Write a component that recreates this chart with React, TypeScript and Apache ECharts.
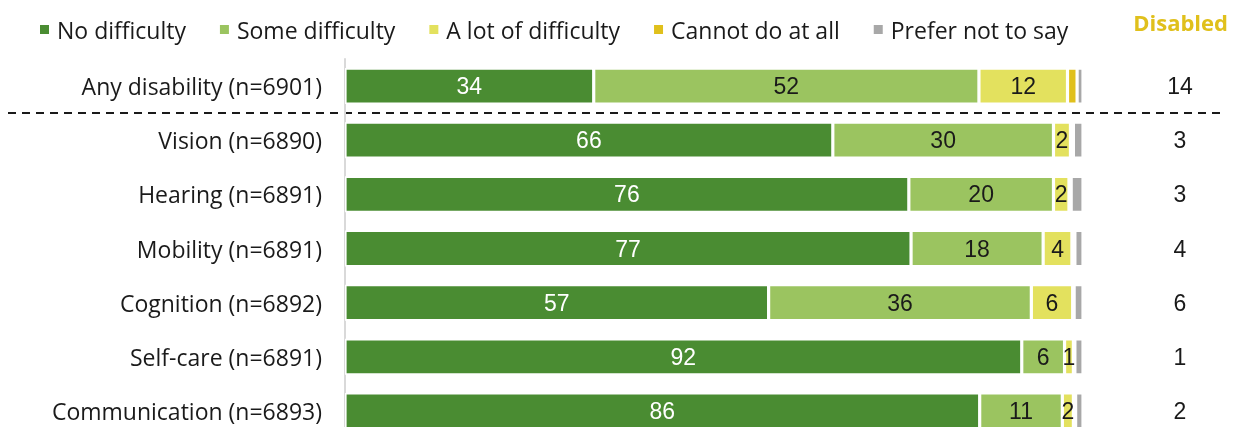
import React, { useEffect, useRef } from "react";
import * as echarts from "echarts";

const categories = [
  "Any disability (n=6901)",
  "Vision (n=6890)",
  "Hearing (n=6891)",
  "Mobility (n=6891)",
  "Cognition (n=6892)",
  "Self-care (n=6891)",
  "Communication (n=6893)",
];
const noDifficulty = [33.7, 66.1, 76.4, 76.7, 57.4, 91.7, 86.0];
const someDifficulty = [52.2, 29.9, 19.6, 17.9, 35.6, 5.8, 11.2];
const aLotOfDifficulty = [12.0, 2.3, 2.1, 3.9, 5.6, 1.2, 1.5];
const cannotDoAtAll = [1.3, 0.4, 0.3, 0.4, 0.2, 0.2, 0.3];
const preferNotToSay = [0.8, 1.3, 1.6, 1.1, 1.2, 1.1, 1.0];
const disabled = [14, 3, 3, 4, 6, 1, 2];

const seriesNames = [
  "No difficulty",
  "Some difficulty",
  "A lot of difficulty",
  "Cannot do at all",
  "Prefer not to say",
];
const seriesValues = [noDifficulty, someDifficulty, aLotOfDifficulty, cannotDoAtAll, preferNotToSay];
const colors = ["#4a8c32", "#9bc460", "#e3e15e", "#e0c01c", "#a8a8a8"];
const labelColors = ["#ffffff", "#1a1a1a", "#1a1a1a", "#1a1a1a", "#1a1a1a"];
const showLabel = [true, true, true, false, false];

const AXIS_FONT = "'Open Sans', 'Noto Sans', sans-serif";
const NUM_FONT = "'Liberation Sans', Arial, sans-serif";

export default function App() {
  const ref = useRef<HTMLDivElement>(null);
  useEffect(() => {
    if (!ref.current) return;
    const chart = echarts.init(ref.current, null, { renderer: "svg" });
    const series = seriesNames.map((name, i) => ({
      name,
      type: "bar",
      stack: "total",
      barWidth: 36,
      data: seriesValues[i],
      itemStyle: { color: colors[i], borderColor: "#ffffff", borderWidth: 1.6 },
      label: {
        show: showLabel[i],
        position: "inside",
        color: labelColors[i],
        fontFamily: NUM_FONT,
        fontSize: 23,
        formatter: (p: any) => String(Math.round(p.value)),
      },
      emphasis: { disabled: true },
    }));
    chart.setOption({
      animation: false,
      color: colors,
      grid: { left: 345, right: 156, top: 59, height: 379, containLabel: false },
      legend: {
        left: 38,
        top: 18,
        padding: 0,
        itemWidth: 11,
        itemHeight: 11,
        itemGap: 32,
        icon: "rect",
        textStyle: { fontFamily: AXIS_FONT, fontSize: 23, color: "#1a1a1a", padding: [0, 0, 0, 2] },
        data: seriesNames,
      },
      xAxis: {
        type: "value",
        min: 0,
        max: 100,
        show: false,
      },
      yAxis: [
        {
          type: "category",
          inverse: true,
          data: categories,
          offset: 1,
          axisLine: { show: true, lineStyle: { color: "#d9d9d9", width: 2 } },
          axisTick: { show: false },
          axisLabel: { fontFamily: AXIS_FONT, fontSize: 23, color: "#1a1a1a", margin: 22 },
        },
        {
          type: "category",
          inverse: true,
          position: "right",
          data: disabled.map(String),
          axisLine: { show: false },
          axisTick: { show: false },
          axisLabel: { fontFamily: NUM_FONT, fontSize: 23, color: "#1a1a1a", margin: 97, align: "center" },
        },
      ],
      graphic: [
        {
          type: "text",
          right: 11,
          top: 11,
          style: { text: "Disabled", fontFamily: AXIS_FONT, fontWeight: "bold", fontSize: 22, fill: "#e0c01c" },
        },
        {
          type: "line",
          shape: { x1: 8, y1: 113, x2: 1221, y2: 113 },
          style: { stroke: "#1a1a1a", lineWidth: 2, lineDash: [8, 6] },
        },
      ],
      series,
    });
    return () => chart.dispose();
  }, []);
  return (
    <div style={{ position: "fixed", left: 0, top: 0, width: 1239, height: 427, overflow: "hidden" }}>
      <div ref={ref} style={{ width: 1239, height: 440 }} />
    </div>
  );
}
